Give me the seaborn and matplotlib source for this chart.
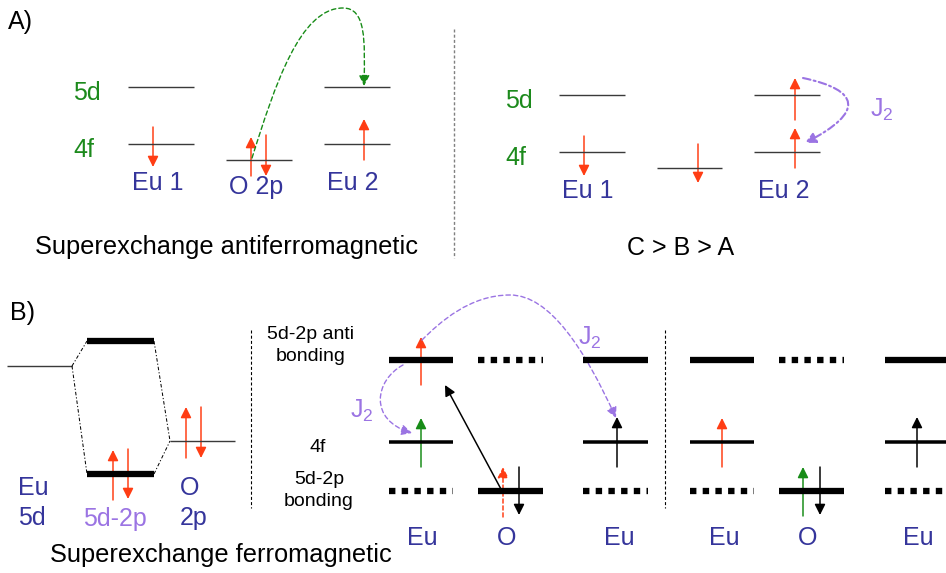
import matplotlib
matplotlib.use("Agg")
import matplotlib.pyplot as plt
from matplotlib.path import Path
from matplotlib.patches import FancyArrowPatch
import seaborn as sns

sns.set_theme(style="white")
plt.rcParams["font.family"] = ["Liberation Sans", "DejaVu Sans"]
plt.rcParams["mathtext.fontset"] = "custom"
plt.rcParams["mathtext.rm"] = "Liberation Sans"
plt.rcParams["mathtext.it"] = "Liberation Sans"
plt.rcParams["lines.scale_dashes"] = False

RED = "#ff3d14"
GREEN = "#178c17"
TEXT_GREEN = "#1c8a1c"
BLUE = "#35359b"
PURPLE = "#9b74e3"
DARK = "#3a3a3a"
PT = 72 / 100  # points per pixel at 100 dpi

# ---- energy levels: (x_start, x_end, y, kind) ----
levels_a = [
    (128, 194, 87, "thin"), (128, 194, 144, "thin"),      # Eu 1 : 5d, 4f
    (226, 292, 160, "thin"),                             # O 2p
    (324, 390, 87, "thin"), (324, 390, 144, "thin"),      # Eu 2 : 5d, 4f
    (559, 625, 95, "thin"), (559, 625, 152, "thin"),      # Eu 1 : 5d, 4f
    (657, 722, 168, "thin"),                             # middle level
    (754, 820, 95, "thin"), (754, 820, 152, "thin"),      # Eu 2 : 5d, 4f
]
levels_b = [
    (7, 72, 366, "thin"),                                # Eu 5d
    (87, 154, 341, "thick"), (87, 154, 474, "thick"),     # 5d-2p anti / bonding
    (170, 235, 441, "thin"),                             # O 2p
]
for x0 in (389, 690):   # Eu site of each exchange picture
    levels_b += [(x0, x0 + 64, 360, "thick"), (x0, x0 + 64, 442, "mid"),
                 (x0, x0 + 64, 491, "dotted")]
for x0 in (478, 779):   # O site
    levels_b += [(x0, x0 + 65, 360, "dotted"), (x0, x0 + 65, 491, "thick")]
for x0 in (583, 885):   # neighbouring Eu site
    levels_b += [(x0, x0 + 65, 360, "thick"), (x0, x0 + 65, 442, "mid"),
                 (x0, x0 + 65, 491, "dotted")]

# MO correlation connectors (dash-dot)
connectors = [((72, 366), (87, 341)), ((72, 366), (87, 474)),
              ((154, 341), (170, 441)), ((154, 474), (170, 441))]

# ---- spin arrows: (x, y_tail, y_head, colour, dashed) ----
spins = [
    (153, 127, 167, RED, False),
    (251, 176, 137, RED, False), (266, 135, 176, RED, False),
    (364, 160, 119, RED, False),
    (584, 136, 176, RED, False),
    (698, 144, 183, RED, False),
    (795, 168, 128, RED, False), (795, 120, 78, RED, False),
    (113, 500, 450, RED, False), (128, 449, 499, RED, False),
    (186, 458, 407, RED, False), (201, 407, 458, RED, False),
    (421, 385, 337, RED, False), (421, 467, 418, GREEN, False),
    (503, 517, 467, RED, True), (519, 467, 515, "black", False),
    (617, 467, 417, "black", False),
    (722, 467, 418, RED, False),
    (803, 516, 467, GREEN, False), (820, 467, 515, "black", False),
    (917, 467, 417, "black", False),
]
hop = ((502, 491), (445, 385))   # O 2p -> Eu 5d hop

# ---- exchange paths (cubic Bezier control points) ----
curve_green = [(252, 158), (275, 85), (300, 8), (343, 8), (366, 8), (365, 40), (364, 86)]
curve_j2_a = [(803, 78), (860, 90), (865, 112), (805, 143)]
curve_j2_big = [(422, 340), (440, 322), (470, 295), (510, 295),
                (550, 295), (585, 350), (616, 418)]
curve_j2_small = [(403, 365), (375, 380), (368, 420), (412, 433)]

# ---- text: (x, y_baseline, text, colour, size, align) ----
labels = [
    (8, 29, "A)", "black", 18, "left"),
    (73, 100, "5d", TEXT_GREEN, 18, "left"), (73, 157, "4f", TEXT_GREEN, 18, "left"),
    (132, 190, "Eu 1", BLUE, 18, "left"), (229, 194, "O 2p", BLUE, 18, "left"),
    (327, 190, "Eu 2", BLUE, 18, "left"),
    (35, 254, "Superexchange antiferromagnetic", "black", 18.3, "left"),
    (505, 108, "5d", TEXT_GREEN, 18, "left"), (505, 165, "4f", TEXT_GREEN, 18, "left"),
    (562, 198, "Eu 1", BLUE, 18, "left"), (758, 198, "Eu 2", BLUE, 18, "left"),
    (627, 255, "C > B > A", "black", 18, "left"),
    (870, 117, r"$\mathregular{J_2}$", PURPLE, 18, "left"),
    (10, 320, "B)", "black", 18, "left"),
    (18, 495, "Eu", BLUE, 18, "left"), (18, 525, "5d", BLUE, 18, "left"),
    (83, 526, "5d-2p", PURPLE, 18, "left"),
    (180, 495, "O", BLUE, 18, "left"), (180, 525, "2p", BLUE, 18, "left"),
    (50, 562, "Superexchange ferromagnetic", "black", 18.3, "left"),
    (311, 339, "5d-2p anti", "black", 14, "center"),
    (311, 361, "bonding", "black", 14, "center"),
    (318, 452, "4f", "black", 14, "center"),
    (319, 484, "5d-2p", "black", 14, "center"),
    (319, 506, "bonding", "black", 14, "center"),
    (350, 418, r"$\mathregular{J_2}$", PURPLE, 18, "left"),
    (578, 345, r"$\mathregular{J_2}$", PURPLE, 18, "left"),
]
site_names = ["Eu", "O", "Eu", "Eu", "O", "Eu"]
site_x = [422, 507, 619, 724, 808, 918]

fig = plt.figure(figsize=(9.46, 5.73), dpi=100, facecolor="white")
ax = fig.add_axes([0, 0, 1, 1])
ax.set_xlim(0, 946)
ax.set_ylim(573, 0)
ax.axis("off")

styles = {
    "thin": dict(color=DARK, lw=1.4 * PT),
    "mid": dict(color="black", lw=3.5 * PT),
    "thick": dict(color="black", lw=6.3 * PT),
    "dotted": dict(color="black", lw=6.3 * PT, dashes=(6.4 * PT, 6.3 * PT)),
}
for x0, x1, y, kind in levels_a + levels_b:
    ax.plot([x0, x1], [y, y], solid_capstyle="butt", dash_capstyle="butt",
            **styles[kind])

for (xa, ya), (xb, yb) in connectors:
    ax.plot([xa, xb], [ya, yb], color="black", lw=1.0 * PT,
            dashes=(3.5 * PT, 2 * PT, 1.2 * PT, 2 * PT))

# panel separators
ax.plot([454, 454], [29, 258], color="#808080", lw=1.4 * PT, dashes=(3 * PT, 2.2 * PT))
for xs in (251, 665):
    ax.plot([xs, xs], [330, 508], color="black", lw=1.1 * PT, dashes=(3 * PT, 2.2 * PT))

head = "-|>,head_length=0.4,head_width=0.2"


def arrow(p0, p1, color, ls="-"):
    ax.add_patch(FancyArrowPatch(p0, p1, arrowstyle=head, mutation_scale=16,
                                 color=color, lw=1.5 * PT, linestyle=ls,
                                 shrinkA=0, shrinkB=0))


for x, y0, y1, c, dashed in spins:
    arrow((x, y0), (x, y1), c, ls=(0, (3, 2)) if dashed else "-")
arrow(hop[0], hop[1], "black")


def bezier(points, color, ls, lw):
    codes = [Path.MOVETO] + [Path.CURVE4] * (len(points) - 1)
    ax.add_patch(FancyArrowPatch(path=Path(points, codes), arrowstyle=head,
                                 mutation_scale=16, color=color, lw=lw,
                                 linestyle=ls))


bezier(curve_green, GREEN, (0, (3.2, 2.2)), 1.0)
bezier(curve_j2_a, PURPLE, (0, (5.5, 2.4, 1.4, 2.4)), 1.5)
bezier(curve_j2_big, PURPLE, (0, (3.2, 2.2)), 1.0)
bezier(curve_j2_small, PURPLE, (0, (3.2, 2.2)), 1.0)

for x, y, s, c, size, ha in labels:
    ax.text(x, y, s, color=c, fontsize=size, ha=ha, va="baseline")
for name, x in zip(site_names, site_x):
    ax.text(x, 545, name, color=BLUE, fontsize=18, ha="center", va="baseline")

fig.savefig("out.png", dpi=100, facecolor="white")
